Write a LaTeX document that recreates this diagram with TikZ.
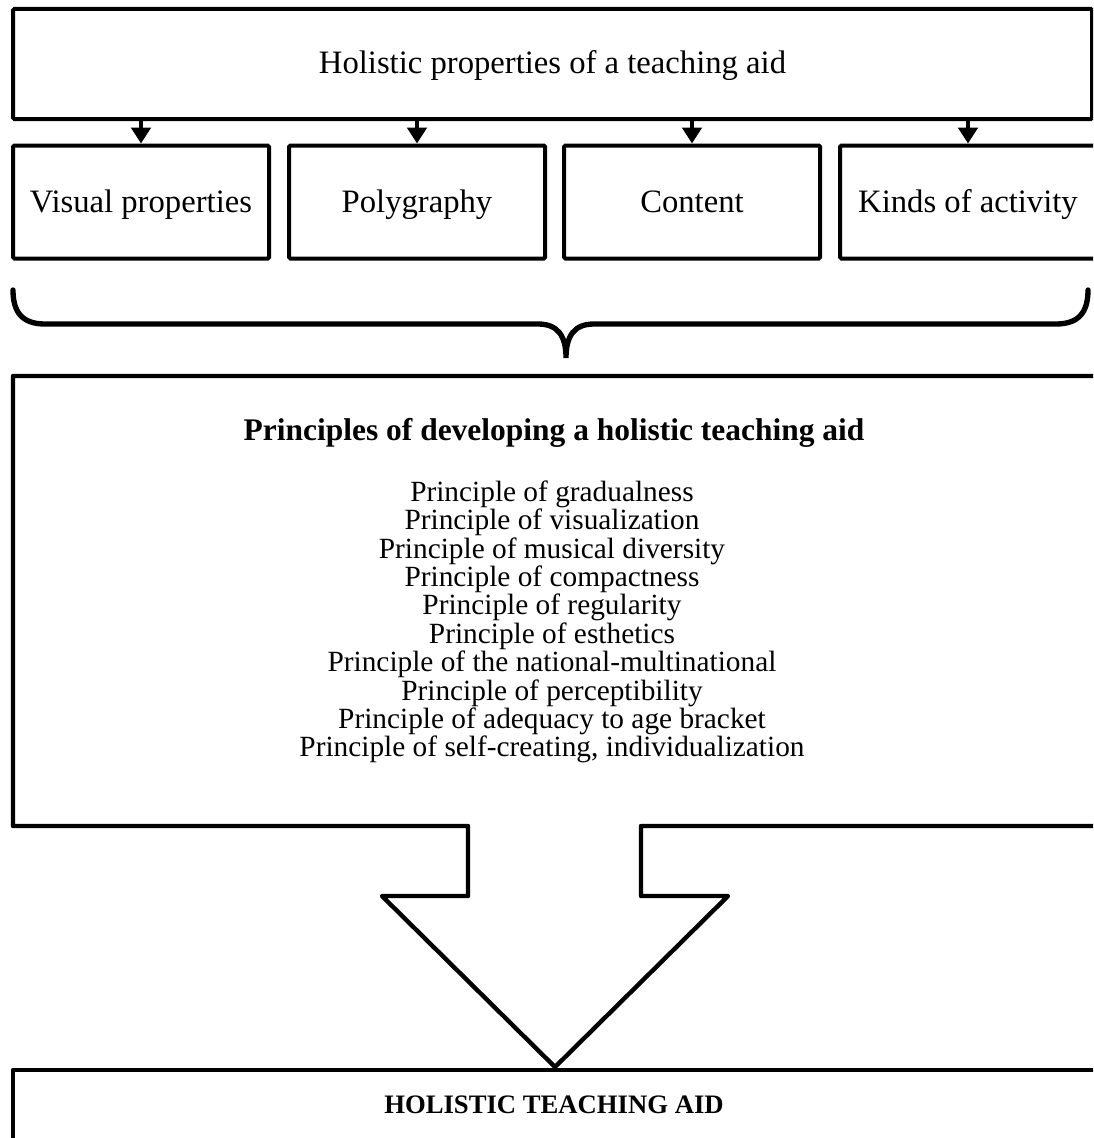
\documentclass[tikz,border=0pt]{standalone}
\usepackage{fontspec}
\setmainfont{Liberation Serif}
\usetikzlibrary{positioning,arrows.meta}

\tikzset{
  box/.style={draw, line width=3pt, rounded corners=1pt, minimum width=192pt, minimum height=84.75pt, inner sep=0pt, text height=15pt, text depth=0pt, font=\fontsize{24.5}{28}\selectfont},
  link/.style={line width=3.6pt, -{Triangle[width=14.5pt,length=12pt]}},
  frame/.style={line width=3.3pt, line join=round},
}

\begin{document}
\begin{tikzpicture}[x=0.75pt,y=-0.75pt]
    \useasboundingbox (0,0) rectangle (1093,1138);
    \clip (0,0) rectangle (1093,1138);
    % Top box
    \node [box, minimum width=809.25pt, minimum height=82.5pt] (props) at (552.5,64) {Holistic properties of a teaching aid};
    % Property boxes
    \node [box] (visual) at (141,202) {Visual properties};
    \node [box] (poly) at (417,202) {Polygraphy};
    \node [box] (content) at (692,202) {Content};
    \node [box] (kinds) at (968,202) {Kinds of activity};
    \foreach \n in {visual,poly,content,kinds}
        \draw [link] (props.south -| \n.north) -- (\n.north);
    % Brace
    \draw [line width=4pt, line cap=round] (13,290) .. controls (13,312) and (22,324) .. (45,324) -- (538,324)
        .. controls (558,324) and (566,336) .. (566,358) .. controls (566,336) and (574,324) .. (594,324)
        -- (1056,324) .. controls (1079,324) and (1088,312) .. (1088,290);
    % Principles box with arrow
    \draw [frame] (1110,376) -- (13,376) -- (13,826) -- (468,826) -- (468,896) -- (382,896) -- (555,1067)
        -- (728,896) -- (641,896) -- (641,826) -- (1110,826);
    \node [font=\fontsize{23.6}{26}\selectfont\bfseries] (title) at (554,433) {Principles of developing a holistic teaching aid};
    \node [align=center, font=\fontsize{22}{21.3}\selectfont] (list) at (552,622) {Principle of gradualness\\
        Principle of visualization\\
        Principle of musical diversity\\
        Principle of compactness\\
        Principle of regularity\\
        Principle of esthetics\\
        Principle of the national-multinational\\
        Principle of perceptibility\\
        Principle of adequacy to age bracket\\
        Principle of self-creating, individualization};
    % Result
    \draw [frame] (13,1160) -- (13,1070) -- (1110,1070);
    \node [font=\fontsize{20}{24}\selectfont\bfseries] (aid) at (554,1105) {HOLISTIC TEACHING AID};
\end{tikzpicture}
\end{document}
